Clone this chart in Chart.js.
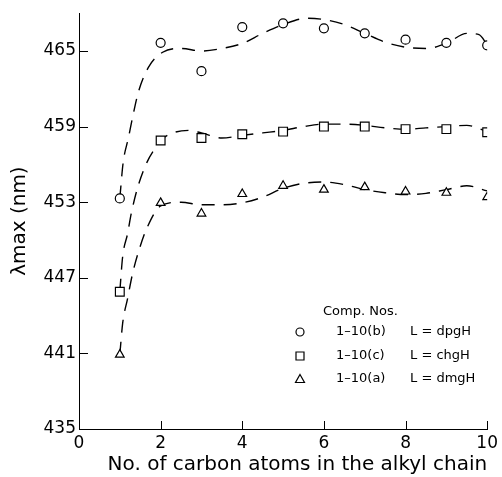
<!DOCTYPE html>
<html>
<head>
<meta charset="utf-8">
<script src="https://cdn.jsdelivr.net/npm/chart.js@4.4.1/dist/chart.umd.min.js"></script>
<style>
  html, body { margin: 0; padding: 0; background: #fff; }
  #wrap { width: 502px; height: 477px; position: relative; }
</style>
</head>
<body>
<div id="wrap"><canvas id="c" width="502" height="477"></canvas></div>
<script>
// ---- data ----
const xTicks = [0, 2, 4, 6, 8, 10];
const yTicks = [435, 441, 447, 453, 459, 465];
const carbonNos = [1, 2, 3, 4, 5, 6, 7, 8, 9, 10];
const lambdaB = [453.3, 465.65, 463.4, 466.9, 467.2, 466.8, 466.4, 465.9, 465.65, 465.45]; // 1-10(b) dpgH
const lambdaC = [445.9, 457.9, 458.1, 458.4, 458.6, 459.0, 459.0, 458.8, 458.8, 458.55];   // 1-10(c) chgH
const lambdaA = [440.9, 452.95, 452.1, 453.65, 454.3, 454.0, 454.2, 453.85, 453.75, 453.4]; // 1-10(a) dmgH

const fitXB = [1, 1.08, 1.21, 1.33, 1.46, 1.7, 2.05, 2.5, 3, 3.5, 4, 4.5, 5, 5.6, 6, 6.5, 7, 7.5, 8, 8.5, 9, 9.5, 9.8, 10];
const fitYB = [453.3, 456.1, 458.1, 460.0, 461.8, 463.7, 464.9, 465.2, 465.0, 465.2, 465.6, 466.4, 467.1, 467.6, 467.5, 467.1, 466.4, 465.7, 465.3, 465.2, 465.6, 466.4, 466.3, 465.5];
const fitXC = [1, 1.07, 1.19, 1.28, 1.44, 1.67, 1.89, 2, 2.3, 2.7, 3, 3.5, 4, 4.5, 5, 5.5, 6, 6.5, 7, 7.5, 8, 8.5, 9, 9.5, 10];
const fitYC = [445.9, 448.7, 450.5, 452.1, 454.2, 456.2, 457.4, 457.9, 458.5, 458.7, 458.5, 458.1, 458.3, 458.5, 458.7, 459.0, 459.2, 459.2, 459.1, 458.9, 458.8, 458.9, 459.0, 459.1, 458.6];
const fitXA = [1, 1.07, 1.19, 1.31, 1.47, 1.67, 2, 2.5, 3, 3.5, 4, 4.5, 5, 5.5, 6, 6.5, 7, 7.5, 8, 8.5, 9, 9.5, 10];
const fitYA = [440.9, 443.4, 445.35, 447.3, 449.2, 451.0, 452.7, 453.0, 452.8, 452.8, 452.95, 453.4, 454.1, 454.5, 454.6, 454.4, 454.0, 453.75, 453.6, 453.7, 454.0, 454.3, 453.9];

const legendTitle = 'Comp. Nos.';
const legendCodes = ['1\u201310(b)', '1\u201310(c)', '1\u201310(a)'];
const legendLigands = ['L = dpgH', 'L = chgH', 'L = dmgH'];
const legendStyles = ['circle', 'rect', 'triangle'];

const xTitle = 'No. of carbon atoms in the alkyl chain';
const yTitle = '\u03bbmax (nm)';

// ---- helpers ----
const pts = (xs, ys) => xs.map((x, i) => ({ x: x, y: ys[i] }));
const FONT = "'DejaVu Sans', sans-serif";

function pointSet(label, ys, style, radius) {
  return {
    label: label, data: pts(carbonNos, ys), showLine: false,
    pointStyle: style, pointRadius: radius, pointHoverRadius: radius,
    pointBackgroundColor: '#fff', pointBorderColor: '#000', pointBorderWidth: 1.2
  };
}
function curveSet(label, xs, ys) {
  return {
    label: label, data: pts(xs, ys), showLine: true, pointRadius: 0,
    borderColor: '#000', borderWidth: 1.4, borderDash: [13, 9],
    cubicInterpolationMode: 'monotone', fill: false
  };
}

const inwardTicks = {
  id: 'inwardTicks',
  afterDraw(chart) {
    const { ctx, chartArea: a, scales: { x, y } } = chart;
    ctx.save();
    ctx.strokeStyle = '#000';
    ctx.lineWidth = 1;
    ctx.beginPath();
    yTicks.forEach(v => {
      if (v === y.min) return;
      const p = Math.round(y.getPixelForValue(v)) + 0.5;
      ctx.moveTo(a.left, p); ctx.lineTo(a.left + 9, p);
    });
    xTicks.forEach(v => {
      if (v === x.min) return;
      const p = Math.round(x.getPixelForValue(v)) + 0.5;
      ctx.moveTo(p, a.bottom); ctx.lineTo(p, a.bottom - 8);
    });
    ctx.stroke();
    ctx.restore();
  }
};

const boxLegend = {
  id: 'boxLegend',
  afterDraw(chart) {
    const { ctx } = chart;
    ctx.save();
    ctx.fillStyle = '#000';
    ctx.strokeStyle = '#000';
    ctx.lineWidth = 1.2;
    ctx.font = '13px ' + FONT;
    ctx.textBaseline = 'middle';
    ctx.textAlign = 'left';
    ctx.fillText(legendTitle, 323, 312);
    const rows = [332, 356, 379];
    legendStyles.forEach((s, i) => {
      const cy = rows[i], cx = 300;
      ctx.beginPath();
      if (s === 'circle') ctx.arc(cx, cy, 4, 0, Math.PI * 2);
      else if (s === 'rect') ctx.rect(cx - 4, cy - 4, 8, 8);
      else { ctx.moveTo(cx, cy - 4.5); ctx.lineTo(cx + 4.5, cy + 3.5); ctx.lineTo(cx - 4.5, cy + 3.5); ctx.closePath(); }
      ctx.stroke();
      ctx.fillText(legendCodes[i], 336, cy);
      ctx.fillText(legendLigands[i], 410, cy);
    });
    ctx.restore();
  }
};

new Chart(document.getElementById('c'), {
  type: 'scatter',
  data: {
    datasets: [
      pointSet('1-10(b)', lambdaB, 'circle', 4.5),
      pointSet('1-10(c)', lambdaC, 'rect', 6.2),
      pointSet('1-10(a)', lambdaA, 'triangle', 5),
      curveSet('fit b', fitXB, fitYB),
      curveSet('fit c', fitXC, fitYC),
      curveSet('fit a', fitXA, fitYA)
    ]
  },
  options: {
    responsive: false,
    animation: false,
    devicePixelRatio: 1,
    layout: { padding: { top: 11, right: 12, left: 0, bottom: 0 } },
    plugins: { legend: { display: false }, tooltip: { enabled: false } },
    scales: {
      x: {
        type: 'linear', min: 0, max: 10,
        afterBuildTicks: s => { s.ticks = xTicks.map(v => ({ value: v })); },
        afterFit: s => { s.height = 48; },
        grid: { display: true, drawOnChartArea: false, drawTicks: false },
        border: { display: true, color: '#000', width: 1 },
        ticks: { color: '#000', padding: 4, font: { family: FONT, size: 17 }, maxRotation: 0 },
        title: { display: true, text: xTitle, align: 'end', color: '#000', padding: { top: 0, bottom: 0 }, font: { family: FONT, size: 20 } }
      },
      y: {
        type: 'linear', min: 435, max: 468,
        afterBuildTicks: s => { s.ticks = yTicks.map(v => ({ value: v })); },
        afterFit: s => { s.width = 79; },
        grid: { display: true, drawOnChartArea: false, drawTicks: false },
        border: { display: true, color: '#000', width: 1 },
        ticks: { color: '#000', padding: 3, font: { family: FONT, size: 17 } },
        title: { display: true, text: yTitle, color: '#000', padding: { top: 8, bottom: 0 }, font: { family: FONT, size: 20 } }
      }
    }
  },
  plugins: [inwardTicks, boxLegend]
});
</script>
</body>
</html>
